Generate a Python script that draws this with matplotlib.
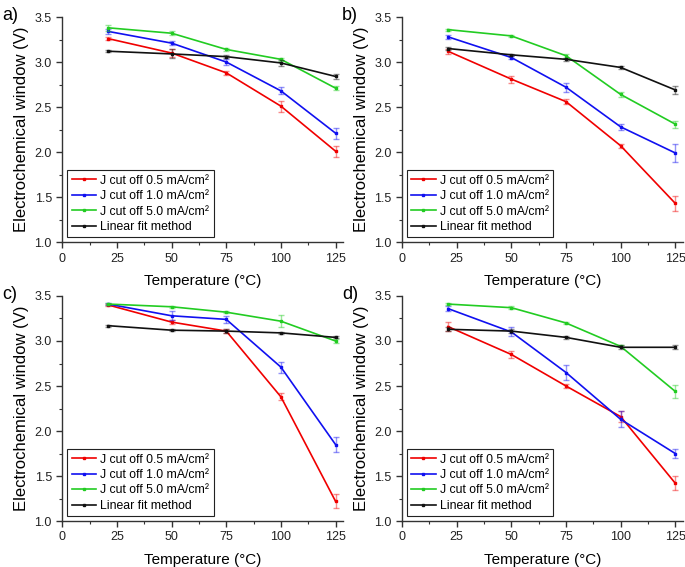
import matplotlib
matplotlib.use("Agg")
import matplotlib.pyplot as plt
from matplotlib.colors import to_rgba
from matplotlib.ticker import MultipleLocator, FormatStrFormatter

plt.rcParams['font.family'] = ['Liberation Sans', 'DejaVu Sans']

# temperatures (°C)
temps = [21, 50, 75, 100, 125]

labels = ["J cut off 0.5 mA/cm²", "J cut off 1.0 mA/cm²",
          "J cut off 5.0 mA/cm²", "Linear fit method"]
colors = ["#f00000", "#1010f0", "#22cc22", "#111111"]
panel_names = ["a)", "b)", "c)", "d)"]

# panel a
a_red = [3.26, 3.10, 2.88, 2.51, 2.01]
a_red_err = [0.02, 0.04, 0.02, 0.06, 0.06]
a_blue = [3.34, 3.21, 3.00, 2.68, 2.21]
a_blue_err = [0.03, 0.02, 0.03, 0.04, 0.06]
a_green = [3.38, 3.32, 3.14, 3.03, 2.71]
a_green_err = [0.03, 0.02, 0.02, 0.02, 0.02]
a_black = [3.12, 3.09, 3.06, 2.99, 2.84]
a_black_err = [0.01, 0.05, 0.02, 0.03, 0.03]

# panel b
b_red = [3.12, 2.81, 2.56, 2.07, 1.43]
b_red_err = [0.03, 0.04, 0.03, 0.02, 0.08]
b_blue = [3.28, 3.05, 2.72, 2.28, 1.99]
b_blue_err = [0.02, 0.02, 0.05, 0.03, 0.10]
b_green = [3.36, 3.29, 3.07, 2.64, 2.31]
b_green_err = [0.01, 0.01, 0.02, 0.03, 0.04]
b_black = [3.15, 3.08, 3.03, 2.94, 2.69]
b_black_err = [0.02, 0.01, 0.02, 0.02, 0.04]

# panel c
c_red = [3.40, 3.21, 3.11, 2.38, 1.22]
c_red_err = [0.01, 0.02, 0.02, 0.04, 0.08]
c_blue = [3.41, 3.28, 3.24, 2.71, 1.85]
c_blue_err = [0.01, 0.05, 0.04, 0.06, 0.08]
c_green = [3.41, 3.38, 3.32, 3.22, 3.00]
c_green_err = [0.01, 0.01, 0.01, 0.07, 0.02]
c_black = [3.17, 3.12, 3.11, 3.09, 3.04]
c_black_err = [0.01, 0.01, 0.02, 0.01, 0.01]

# panel d
d_red = [3.16, 2.85, 2.50, 2.16, 1.42]
d_red_err = [0.05, 0.04, 0.02, 0.06, 0.08]
d_blue = [3.36, 3.10, 2.65, 2.13, 1.75]
d_blue_err = [0.03, 0.05, 0.08, 0.09, 0.05]
d_green = [3.41, 3.37, 3.20, 2.94, 2.44]
d_green_err = [0.01, 0.02, 0.01, 0.01, 0.07]
d_black = [3.13, 3.11, 3.04, 2.93, 2.93]
d_black_err = [0.02, 0.02, 0.02, 0.02, 0.02]

panels = [
    [(a_red, a_red_err), (a_blue, a_blue_err), (a_green, a_green_err), (a_black, a_black_err)],
    [(b_red, b_red_err), (b_blue, b_blue_err), (b_green, b_green_err), (b_black, b_black_err)],
    [(c_red, c_red_err), (c_blue, c_blue_err), (c_green, c_green_err), (c_black, c_black_err)],
    [(d_red, d_red_err), (d_blue, d_blue_err), (d_green, d_green_err), (d_black, d_black_err)],
]

fig = plt.figure(figsize=(6.85, 5.67), dpi=100)

# axes boxes in figure fractions [left, bottom, width, height]
boxes = [
    [0.091, 0.573, 0.410, 0.397],
    [0.587, 0.573, 0.410, 0.397],
    [0.091, 0.081, 0.410, 0.397],
    [0.587, 0.081, 0.410, 0.397],
]
label_pos = [(0.003, 0.988), (0.499, 0.988), (0.003, 0.495), (0.499, 0.495)]

for i, series in enumerate(panels):
    ax = fig.add_axes(boxes[i])
    for (vals, errs), col, lab in zip(series, colors, labels):
        ax.errorbar(temps, vals, yerr=errs, fmt='none',
                    ecolor=to_rgba(col, 0.45), elinewidth=1.0, capsize=2.5, capthick=1.0)
        ax.plot(temps, vals, color=col, linewidth=1.2, marker='s', markersize=2, label=lab)

    ax.set_xlim(0, 128.5)
    ax.set_ylim(1.0, 3.5)
    ax.xaxis.set_major_locator(MultipleLocator(25))
    ax.xaxis.set_minor_locator(MultipleLocator(12.5))
    ax.yaxis.set_major_locator(MultipleLocator(0.5))
    ax.yaxis.set_minor_locator(MultipleLocator(0.25))
    ax.yaxis.set_major_formatter(FormatStrFormatter('%.1f'))
    for s in ['top', 'right']:
        ax.spines[s].set_visible(False)
    for s in ['left', 'bottom']:
        ax.spines[s].set_color('#333333')
        ax.spines[s].set_linewidth(1.0)
    ax.tick_params(which='major', direction='out', length=4, width=1.0,
                   labelsize=9, colors='#333333', labelcolor='#222222')
    ax.tick_params(which='minor', direction='out', length=2, width=0.8, colors='#333333')

    ax.set_xlabel("Temperature (°C)", fontsize=11, labelpad=7)
    ax.set_ylabel("Electrochemical window (V)", fontsize=12, labelpad=4)

    leg = ax.legend(loc='lower left', fontsize=8.8, frameon=True, fancybox=False,
                    edgecolor='#222222', framealpha=1, handlelength=2.0,
                    handletextpad=0.35, borderpad=0.35, labelspacing=0.28,
                    borderaxespad=0.4)
    leg.get_frame().set_linewidth(0.8)

    fig.text(label_pos[i][0], label_pos[i][1], panel_names[i], fontsize=13,
             ha='left', va='top')

fig.savefig("out.png", dpi=100)
